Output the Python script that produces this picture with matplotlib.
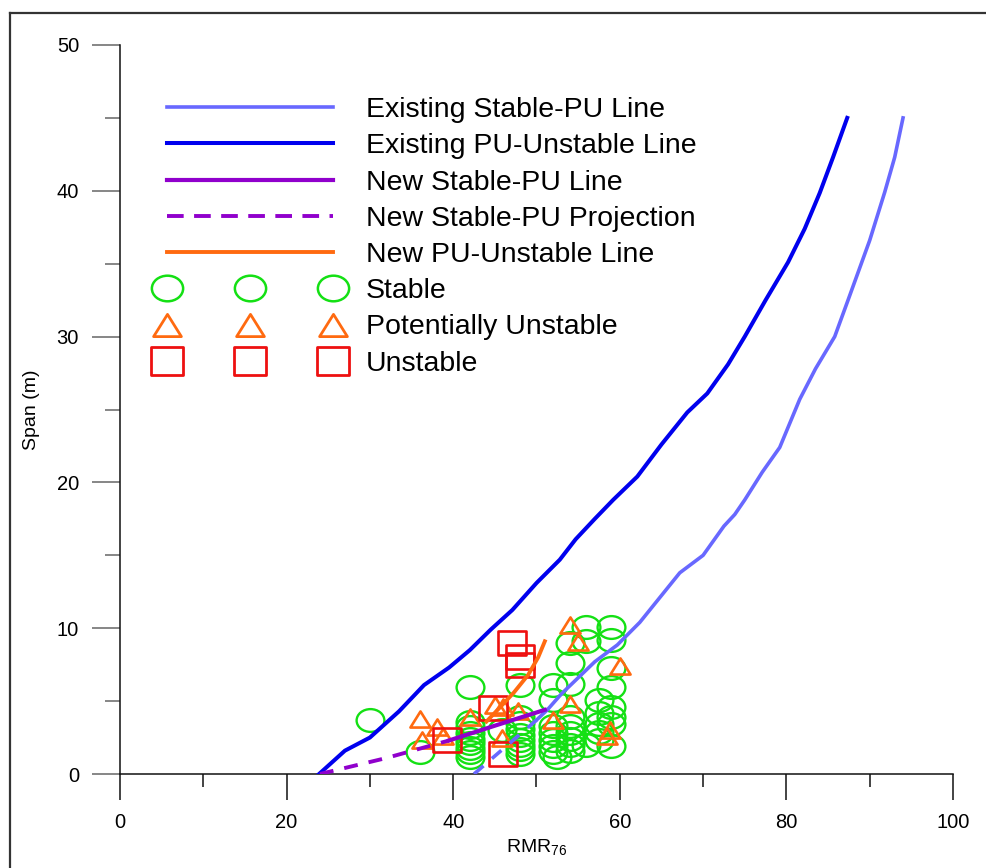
import numpy as np
import matplotlib
matplotlib.use("Agg")
import matplotlib.pyplot as plt
from matplotlib.path import Path
from matplotlib.lines import Line2D
from matplotlib.legend_handler import HandlerLine2D
from matplotlib.ticker import MultipleLocator

plt.rcParams['font.family'] = ['Liberation Sans', 'DejaVu Sans']
plt.rcParams['mathtext.fontset'] = 'custom'
plt.rcParams['mathtext.rm'] = 'Liberation Sans'
plt.rcParams['mathtext.it'] = 'Liberation Sans:italic'
plt.rcParams['mathtext.bf'] = 'Liberation Sans:bold'
plt.rcParams['lines.scale_dashes'] = False

# ---- design curves (RMR76, span in m) ----
exist_pu_unstable_rmr = [23.9, 27.0, 30.0, 33.5, 36.5, 39.5, 42.0, 44.5, 47.1, 50.0, 52.8,
                         54.7, 57.0, 59.2, 62.1, 65.0, 68.1, 70.5, 73.0, 75.0, 77.5, 80.2,
                         82.2, 84.0, 85.6, 87.3]
exist_pu_unstable_span = [0.0, 1.6, 2.5, 4.3, 6.1, 7.3, 8.5, 9.9, 11.25, 13.1, 14.7,
                          16.1, 17.5, 18.8, 20.4, 22.6, 24.8, 26.1, 28.1, 30.0, 32.5, 35.1,
                          37.4, 39.85, 42.3, 45.0]

exist_stable_pu_rmr = [50.0, 51.3, 53.0, 55.0, 57.0, 59.7, 62.4, 64.8, 67.2, 70.0, 72.5,
                       73.8, 75.0, 77.1, 79.2, 81.6, 83.5, 85.8, 87.4, 90.0, 91.8, 93.0, 94.0]
exist_stable_pu_span = [3.7, 4.4, 5.5, 6.6, 7.7, 8.85, 10.4, 12.1, 13.8, 15.0, 17.0,
                        17.8, 18.8, 20.7, 22.4, 25.7, 27.8, 30.0, 32.5, 36.6, 39.9, 42.3, 45.0]
exist_stable_pu_ext_rmr = [42.5, 50.0]
exist_stable_pu_ext_span = [0.0, 3.7]

new_stable_pu_rmr = [39.5, 45.2, 51.0]
new_stable_pu_span = [2.3, 3.35, 4.4]
new_stable_pu_proj_rmr = [24.0, 32.0, 39.5]
new_stable_pu_proj_span = [0.0, 1.1, 2.3]

new_pu_unstable_rmr = [44.0, 45.5, 47.3, 49.0, 50.2, 51.0]
new_pu_unstable_span = [3.6, 4.5, 5.6, 6.8, 8.0, 9.1]

# ---- case histories ----
stable_rmr = [30.0, 36.0, 42.0,
              42.0, 42.0, 42.0, 42.0, 42.0, 42.0, 42.0, 42.0,
              45.8, 48.0,
              48.0, 48.0, 48.0, 48.0, 48.0, 48.0, 48.0, 48.0,
              52.0, 52.0, 52.0, 52.0, 52.0, 52.0, 52.0, 52.5,
              54.0, 54.0, 54.0, 54.0, 54.0, 54.0, 54.0, 54.0, 54.0,
              56.0, 56.0, 56.0,
              57.5, 57.5, 57.5, 57.5, 57.5,
              59.0, 59.0, 59.0, 59.0, 59.0, 59.0, 59.0, 59.0]
stable_span = [3.7, 1.5, 6.0,
               1.2, 1.5, 1.8, 2.1, 2.4, 2.8, 3.2, 3.6,
               3.0, 6.1,
               1.4, 1.7, 2.0, 2.3, 2.7, 3.1, 3.5, 3.9,
               1.5, 1.9, 2.3, 2.8, 3.3, 5.1, 6.1, 1.2,
               1.6, 2.0, 2.4, 2.8, 3.3, 3.9, 6.2, 7.6, 9.0,
               10.1, 9.1, 2.0,
               2.3, 2.9, 3.4, 4.2, 5.1,
               1.9, 3.4, 3.9, 4.6, 6.0, 7.3, 9.2, 10.1]

pu_rmr = [36.0, 36.2, 38.0, 38.8, 42.0, 45.0, 46.0, 47.8, 45.8, 52.0,
          54.0, 55.0, 54.0, 60.0, 58.8, 58.5]
pu_span = [3.8, 2.3, 3.2, 2.6, 3.9, 4.7, 4.6, 4.3, 2.5, 3.7,
           10.2, 9.05, 4.8, 7.4, 3.0, 2.6]

unstable_rmr = [47.0, 48.0, 48.0, 44.8, 39.2, 46.0]
unstable_span = [9.0, 8.0, 7.5, 4.5, 2.3, 1.4]

x_ticks = [0, 20, 40, 60, 80, 100]
y_ticks = [0, 10, 20, 30, 40, 50]


# slightly wide marker shapes
def ellipse_marker(aspect):
    c = Path.unit_circle()
    return Path(c.vertices * np.array([aspect, 1.0]), c.codes)


def triangle_marker(aspect):
    a = 0.5 * aspect
    return Path([(-a, -0.5), (a, -0.5), (0.0, 0.5), (-a, -0.5)],
                [Path.MOVETO, Path.LINETO, Path.LINETO, Path.CLOSEPOLY])


def rect_marker(aspect):
    a = 0.5 * aspect
    return Path([(-a, -0.5), (a, -0.5), (a, 0.5), (-a, 0.5), (-a, -0.5)],
                [Path.MOVETO, Path.LINETO, Path.LINETO, Path.LINETO, Path.CLOSEPOLY])


W, H = 987, 868
fig = plt.figure(figsize=(W / 100, H / 100), dpi=100)
ax = fig.add_axes([120 / W, 1 - 774 / H, (953 - 120) / W, (774 - 45) / H])

c_light = '#6868ff'
c_dark = '#0000ee'
c_purple = '#9000cc'
c_orange = '#ff6a10'
c_green = '#14e014'
c_red = '#ee1010'

m_circle = ellipse_marker(1.22)
m_tri = triangle_marker(1.25)
m_rect = rect_marker(1.1)

ax.plot(stable_rmr, stable_span, ls='none', marker=m_circle, ms=20,
        mfc='none', mec=c_green, mew=1.7, zorder=2)
ax.plot(pu_rmr, pu_span, ls='none', marker=m_tri, ms=14.5,
        mfc='none', mec=c_orange, mew=1.9, zorder=2)
ax.plot(unstable_rmr, unstable_span, ls='none', marker=m_rect, ms=19.5,
        mfc='none', mec=c_red, mew=1.9, zorder=2)

h_light, = ax.plot(exist_stable_pu_rmr, exist_stable_pu_span, color=c_light, lw=2.6,
                   zorder=3)
ax.plot(exist_stable_pu_ext_rmr, exist_stable_pu_ext_span, color=c_light, lw=2.6,
        dashes=(9, 8), zorder=3)
h_dark, = ax.plot(exist_pu_unstable_rmr, exist_pu_unstable_span, color=c_dark, lw=2.9,
                  zorder=3)
h_new, = ax.plot(new_stable_pu_rmr, new_stable_pu_span, color=c_purple, lw=3.0, zorder=3)
h_proj, = ax.plot(new_stable_pu_proj_rmr, new_stable_pu_proj_span, color=c_purple, lw=2.8,
                  dashes=(10, 8), zorder=3)
h_orange, = ax.plot(new_pu_unstable_rmr, new_pu_unstable_span, color=c_orange, lw=2.8,
                    zorder=3)

ax.set_xlim(0, 100)
ax.set_ylim(0, 50)
ax.set_xticks(x_ticks)
ax.set_yticks(y_ticks)
ax.xaxis.set_minor_locator(MultipleLocator(10))
ax.yaxis.set_minor_locator(MultipleLocator(5))
for s in ('top', 'right'):
    ax.spines[s].set_visible(False)
for s in ('left', 'bottom'):
    ax.spines[s].set_linewidth(1.1)
    ax.spines[s].set_color('#111111')
ax.tick_params(axis='x', which='major', direction='out', length=19, width=1.1,
               color='#111111', pad=9, labelsize=14.5)
ax.tick_params(axis='x', which='minor', direction='out', length=9.5, width=1.1,
               color='#111111')
ax.tick_params(axis='y', which='major', direction='out', length=20.5, width=1.1,
               color='#666666', pad=9, labelsize=14.5)
ax.tick_params(axis='y', which='minor', direction='out', length=10.5, width=1.1,
               color='#666666')

ax.set_xlabel('RMR$_{76}$', fontsize=14)
ax.xaxis.set_label_coords(0.5, -0.086)
ax.set_ylabel('Span (m)', fontsize=14)
ax.yaxis.set_label_coords(-0.096, 0.5)

# legend: marker keys are drawn a little larger than the plotted points
k_stable = Line2D([], [], ls='none', marker=m_circle, ms=22.5, mfc='none', mec=c_green, mew=1.8)
k_pu = Line2D([], [], ls='none', marker=m_tri, ms=20, mfc='none', mec=c_orange, mew=2.0)
k_unst = Line2D([], [], ls='none', marker=m_rect, ms=22.5, mfc='none', mec=c_red, mew=2.0)
k_proj = Line2D([], [], color=c_purple, lw=2.8, dashes=(12, 7.5))

handles = [h_light, h_dark, h_new, k_proj, h_orange, k_stable, k_pu, k_unst]
labels = ['Existing Stable-PU Line', 'Existing PU-Unstable Line', 'New Stable-PU Line',
          'New Stable-PU Projection', 'New PU-Unstable Line', 'Stable',
          'Potentially Unstable', 'Unstable']
leg = fig.legend(handles, labels, loc='upper left',
                 bbox_to_anchor=(167 / W, 1 - 97 / H), frameon=False, fontsize=20.5,
                 numpoints=3, handlelength=5.83, handletextpad=1.16,
                 labelspacing=0.36, borderpad=0, borderaxespad=0,
                 handler_map={Line2D: HandlerLine2D(marker_pad=0)})

# outer frame
fig.add_artist(Line2D([10 / W, 1.0], [1 - 13 / H, 1 - 13 / H], transform=fig.transFigure,
                      color='#333333', lw=1.6))
fig.add_artist(Line2D([10 / W, 10 / W], [0.0, 1 - 13 / H], transform=fig.transFigure,
                      color='#333333', lw=1.6))

fig.savefig('out.png', dpi=100)
